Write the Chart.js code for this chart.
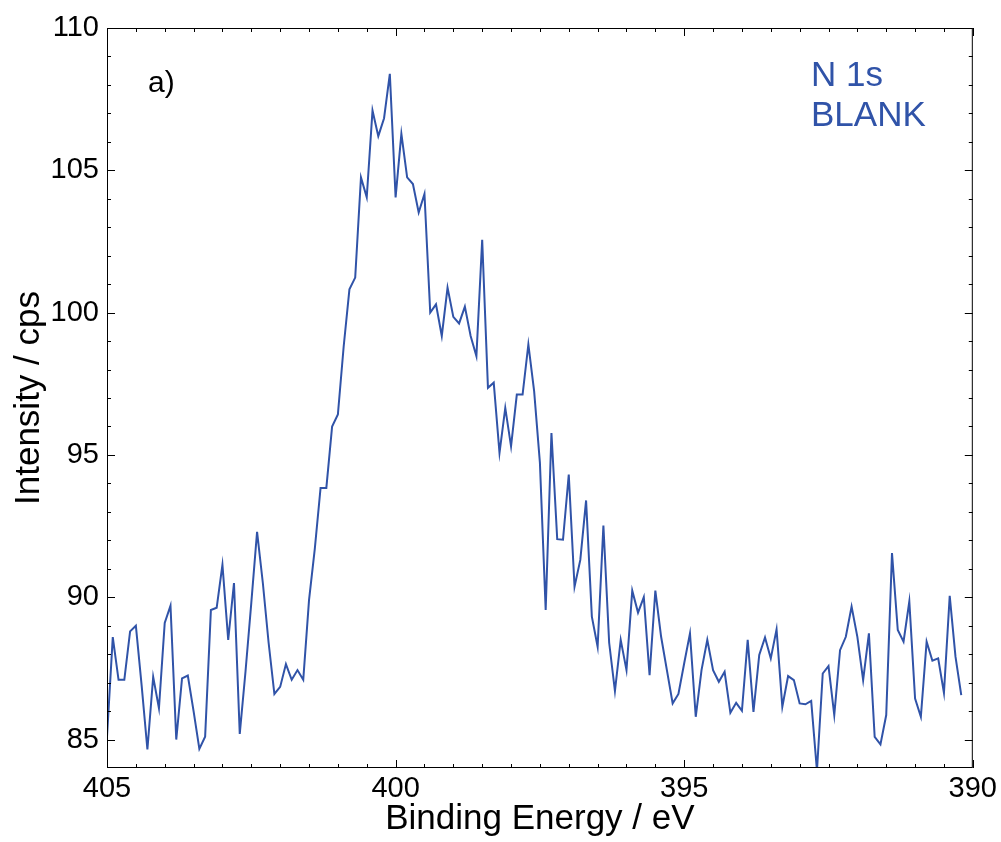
<!DOCTYPE html>
<html>
<head>
<meta charset="utf-8">
<script src="https://cdn.jsdelivr.net/npm/chart.js@4.4.1/dist/chart.umd.min.js"></script>
<style>
  body { margin: 0; background: #fff; }
  #wrap { width: 1001px; height: 842px; }
</style>
</head>
<body>
<div id="wrap"><canvas id="chartN1s" width="1001" height="842"></canvas></div>
<script>
// binding energy (eV), 0.1 eV steps
const energia = [
  405.0, 404.9, 404.8, 404.7, 404.6, 404.5, 404.4, 404.3, 404.2, 404.1,
  404.0, 403.9, 403.8, 403.7, 403.6, 403.5, 403.4, 403.3, 403.2, 403.1,
  403.0, 402.9, 402.8, 402.7, 402.6, 402.5, 402.4, 402.3, 402.2, 402.1,
  402.0, 401.9, 401.8, 401.7, 401.6, 401.5, 401.4, 401.3, 401.2, 401.1,
  401.0, 400.9, 400.8, 400.7, 400.6, 400.5, 400.4, 400.3, 400.2, 400.1,
  400.0, 399.9, 399.8, 399.7, 399.6, 399.5, 399.4, 399.3, 399.2, 399.1,
  399.0, 398.9, 398.8, 398.7, 398.6, 398.5, 398.4, 398.3, 398.2, 398.1,
  398.0, 397.9, 397.8, 397.7, 397.6, 397.5, 397.4, 397.3, 397.2, 397.1,
  397.0, 396.9, 396.8, 396.7, 396.6, 396.5, 396.4, 396.3, 396.2, 396.1,
  396.0, 395.9, 395.8, 395.7, 395.6, 395.5, 395.4, 395.3, 395.2, 395.1,
  395.0, 394.9, 394.8, 394.7, 394.6, 394.5, 394.4, 394.3, 394.2, 394.1,
  394.0, 393.9, 393.8, 393.7, 393.6, 393.5, 393.4, 393.3, 393.2, 393.1,
  393.0, 392.9, 392.8, 392.7, 392.6, 392.5, 392.4, 392.3, 392.2, 392.1,
  392.0, 391.9, 391.8, 391.7, 391.6, 391.5, 391.4, 391.3, 391.2, 391.1,
  391.0, 390.9, 390.8, 390.7, 390.6, 390.5, 390.4, 390.3, 390.2
];
// intensity (cps)
const intensidad = [
  85.1, 88.6, 87.1, 87.1, 88.8, 89.0, 86.9, 84.65, 87.2, 86.1,
  89.1, 89.7, 85.0, 87.15, 87.25, 86.0, 84.67, 85.1, 89.55, 89.63,
  91.14, 88.5, 90.5, 85.2, 87.4, 89.8, 92.3, 90.5, 88.4, 86.6,
  86.85, 87.65, 87.1, 87.44, 87.1, 89.9, 91.7, 93.84, 93.84, 96.0,
  96.42, 98.8, 100.82, 101.23, 104.75, 104.05, 107.1, 106.2, 106.83, 108.39,
  104.05, 106.28, 104.75, 104.52, 103.52, 104.17, 100.0, 100.29, 99.18, 100.88,
  99.85, 99.62, 100.21, 99.18, 98.47, 102.56, 97.36, 97.54, 95.07, 96.65,
  95.3, 97.12, 97.12, 98.88, 97.24, 94.73, 89.55, 95.77, 92.04, 92.02,
  94.31, 90.37, 91.31, 93.4, 89.32, 88.26, 92.52, 88.4, 86.7, 88.5,
  87.44, 90.23, 89.46, 90.0, 87.26, 90.23, 88.61, 87.44, 86.27, 86.6,
  87.68, 88.73, 85.8, 87.44, 88.5, 87.44, 87.03, 87.38, 85.94, 86.29,
  86.01, 88.5, 85.97, 87.97, 88.59, 87.85, 88.87, 86.15, 87.23, 87.09,
  86.27, 86.24, 86.36, 83.9, 87.32, 87.58, 85.86, 88.14, 88.61, 89.67,
  88.61, 87.09, 88.73, 85.09, 84.83, 85.86, 91.55, 88.85, 88.44, 89.85,
  86.44, 85.8, 88.44, 87.77, 87.85, 86.64, 90.05, 87.91, 86.56
];
const ticksY = [85, 90, 95, 100, 105, 110];
const ticksX = [405, 400, 395, 390];

const azul = '#3053a8';
const fuente = "'Liberation Sans', Arial, sans-serif";

// inward ticks on all four sides + frame + labels
const marcoPlugin = {
  id: 'marco',
  afterDraw(chart) {
    const ctx = chart.ctx;
    const a = chart.chartArea;
    const sx = chart.scales.x, sy = chart.scales.y;
    ctx.save();
    ctx.strokeStyle = '#000';
    ctx.lineWidth = 1;
    ctx.strokeRect(a.left + 0.5, a.top + 0.5, a.right - a.left - 1, a.bottom - a.top - 1);
    ctx.beginPath();
    for (let v = 390; v <= 405.001; v += 0.5) {
      const px = Math.round(sx.getPixelForValue(v)) + 0.5;
      const len = Math.abs(v % 5) < 0.01 ? 8 : 4;
      ctx.moveTo(px, a.bottom); ctx.lineTo(px, a.bottom - len);
      ctx.moveTo(px, a.top); ctx.lineTo(px, a.top + len);
    }
    for (let v = 85; v <= 110; v += 1) {
      const py = Math.round(sy.getPixelForValue(v)) + 0.5;
      const len = v % 5 === 0 ? 8 : 4;
      ctx.moveTo(a.left, py); ctx.lineTo(a.left + len, py);
      ctx.moveTo(a.right, py); ctx.lineTo(a.right - len, py);
    }
    ctx.stroke();
    ctx.textAlign = 'left';
    ctx.textBaseline = 'alphabetic';
    ctx.fillStyle = '#000';
    ctx.font = '30px ' + fuente;
    ctx.fillText('a)', a.left + 41, a.top + 64);
    ctx.fillStyle = azul;
    ctx.font = '35px ' + fuente;
    ctx.fillText('N 1s', a.left + 704, a.top + 58);
    ctx.fillText('BLANK', a.left + 704, a.top + 98);
    ctx.restore();
  }
};

new Chart(document.getElementById('chartN1s'), {
  type: 'line',
  data: {
    datasets: [{
      label: 'N 1s',
      data: energia.map((e, i) => ({ x: e, y: intensidad[i] })),
      borderColor: azul,
      borderWidth: 2,
      pointRadius: 0,
      tension: 0,
      fill: false
    }]
  },
  options: {
    responsive: false,
    animation: false,
    layout: { padding: { top: 28, right: 28, left: 0, bottom: 0 } },
    plugins: { legend: { display: false }, tooltip: { enabled: false } },
    scales: {
      x: {
        type: 'linear',
        reverse: true,
        min: 390,
        max: 405,
        afterBuildTicks: s => { s.ticks = ticksX.map(v => ({ value: v })); },
        afterFit: s => { s.height = 74; },
        grid: { display: false, drawTicks: false },
        border: { display: false },
        ticks: { color: '#000', font: { family: fuente, size: 29 }, padding: 4, maxRotation: 0 },
        title: { display: true, text: 'Binding Energy / eV', color: '#000', font: { family: fuente, size: 35 }, padding: { top: 0, bottom: 2 } }
      },
      y: {
        min: 84,
        max: 110,
        afterBuildTicks: s => { s.ticks = ticksY.map(v => ({ value: v })); },
        afterFit: s => { s.width = 107; },
        grid: { display: false, drawTicks: false },
        border: { display: false },
        ticks: { color: '#000', font: { family: fuente, size: 29 }, padding: 8 },
        title: { display: true, text: 'Intensity / cps', color: '#000', font: { family: fuente, size: 35 }, padding: { top: 8, bottom: 0 } }
      }
    }
  },
  plugins: [marcoPlugin]
});
</script>
</body>
</html>
